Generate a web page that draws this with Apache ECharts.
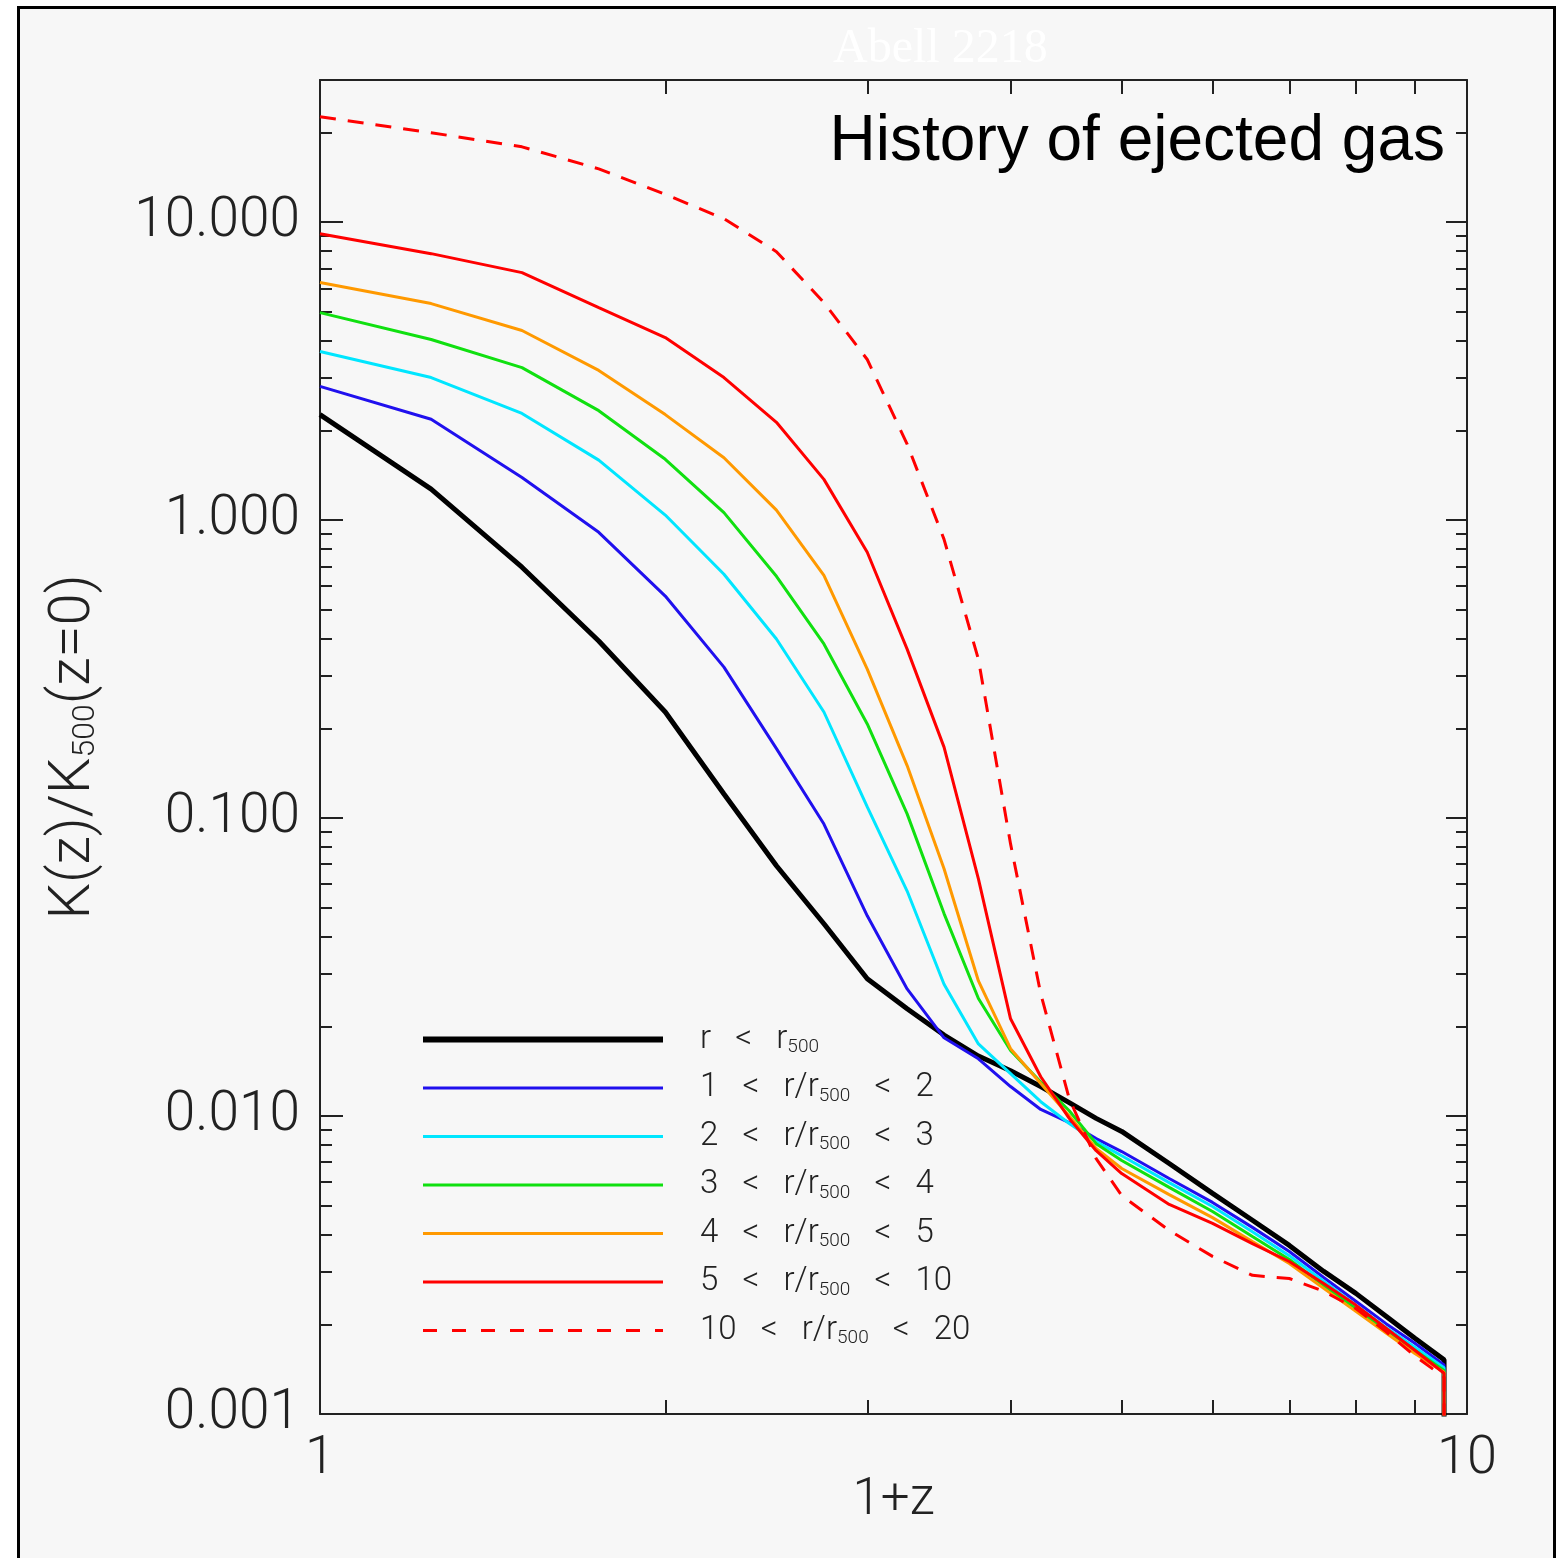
<!DOCTYPE html>
<html>
<head>
<meta charset="utf-8">
<script src="https://cdn.jsdelivr.net/npm/echarts@6/dist/echarts.min.js"></script>
<style>
  html, body { margin: 0; padding: 0; background: #fff; width: 1558px; height: 1558px; overflow: hidden; }
  #frame { position: absolute; left: 17px; top: 6px; width: 1533px; height: 1600px; border: 3px solid #000; background: #f7f7f7; }
  #chart { position: absolute; left: 0; top: 0; width: 1558px; height: 1558px; }
</style>
</head>
<body>
<div id="frame"></div>
<div id="chart"></div>
<script>
// 1+z sample points (last one repeated for the drop at the end)
const onePlusZ = [1, 1.25, 1.5, 1.75, 2, 2.25, 2.5, 2.75, 3, 3.25, 3.5, 3.75, 4, 4.25, 4.5, 4.75, 5, 5.5, 6, 6.5, 7, 7.5, 8, 8.5, 9, 9.55, 9.55]

// K(z)/K500(z=0) for each radial shell
const kCore = [2.26, 1.27, 0.695, 0.393, 0.227, 0.1205, 0.0692, 0.0442, 0.0289, 0.0229, 0.0187, 0.0159, 0.0142, 0.01256, 0.01109, 0.00982, 0.00888, 0.00693, 0.0055, 0.00447, 0.00368, 0.00301, 0.00254, 0.00213, 0.0018, 0.00152, 0.0005]
const k1to2 = [2.81, 2.18, 1.39, 0.91, 0.556, 0.321, 0.171, 0.0955, 0.047, 0.0267, 0.0183, 0.01556, 0.01256, 0.01052, 0.00951, 0.0084, 0.0076, 0.00617, 0.00513, 0.00423, 0.00351, 0.00287, 0.00239, 0.00201, 0.00173, 0.00146, 0.0005]
const k2to3 = [3.68, 3.01, 2.28, 1.59, 1.04, 0.658, 0.399, 0.227, 0.109, 0.0569, 0.0277, 0.01746, 0.01387, 0.01117, 0.00944, 0.00821, 0.00736, 0.00598, 0.00497, 0.00409, 0.0034, 0.00279, 0.00232, 0.00195, 0.00168, 0.00143, 0.0005]
const k3to4 = [4.97, 4.04, 3.25, 2.33, 1.6, 1.06, 0.648, 0.384, 0.207, 0.1033, 0.0478, 0.0248, 0.0166, 0.013, 0.01042, 0.00808, 0.00709, 0.00576, 0.00478, 0.00394, 0.0033, 0.0027, 0.00226, 0.00191, 0.00164, 0.0014, 0.0005]
const k4to5 = [6.27, 5.33, 4.33, 3.18, 2.26, 1.62, 1.08, 0.653, 0.316, 0.15, 0.0676, 0.0284, 0.01683, 0.01285, 0.01, 0.00778, 0.00667, 0.00545, 0.00456, 0.00379, 0.0032, 0.00264, 0.00221, 0.00187, 0.0016, 0.00138, 0.0005]
const k5to10 = [9.15, 7.84, 6.77, 5.17, 4.1, 3.01, 2.13, 1.37, 0.78, 0.369, 0.173, 0.0625, 0.0212, 0.01355, 0.00982, 0.00765, 0.00641, 0.00505, 0.00436, 0.00373, 0.00325, 0.00274, 0.00232, 0.00194, 0.00164, 0.00137, 0.0005]
const k10to20 = [22.6, 19.96, 17.9, 15.1, 12.4, 10.27, 7.96, 5.37, 3.46, 1.8, 0.862, 0.341, 0.0819, 0.0257, 0.01144, 0.00719, 0.00541, 0.00413, 0.00338, 0.00292, 0.00285, 0.00258, 0.00226, 0.00189, 0.00157, 0.00133, 0.0005]

const shellNames = ['r   <   r500', '1   <   r/r500   <   2', '2   <   r/r500   <   3', '3   <   r/r500   <   4', '4   <   r/r500   <   5', '5   <   r/r500   <   10', '10   <   r/r500   <   20']
const shellValues = [kCore, k1to2, k2to3, k3to4, k4to5, k5to10, k10to20]
const shellColors = ['#000000', '#2010ee', '#00e6ff', '#10e010', '#ff9900', '#ff0000', '#ff0000']

// tick values
const xMinorTicks = [2, 3, 4, 5, 6, 7, 8, 9]
const yMajorTicks = [0.001, 0.01, 0.1, 1, 10]
const yMinorTicks = [0.002, 0.003, 0.004, 0.005, 0.006, 0.007, 0.008, 0.009, 0.02, 0.03, 0.04, 0.05, 0.06, 0.07, 0.08, 0.09, 0.2, 0.3, 0.4, 0.5, 0.6, 0.7, 0.8, 0.9, 2, 3, 4, 5, 6, 7, 8, 9, 20]

const axisColor = '#222'
const labelFont = { fontFamily: 'Roboto', fontWeight: 300, color: '#222' }

const chart = echarts.init(document.getElementById('chart'), null, { renderer: 'canvas' })

function pairs(vals) {
  return onePlusZ.map((x, i) => [x, vals[i]])
}

function lineStyleFor(i) {
  return {
    color: shellColors[i],
    width: i === 0 ? 5 : 3,
    type: i === 6 ? [16, 12] : 'solid'
  }
}

const series = shellNames.map((name, i) => ({
  name: name,
  type: 'line',
  xAxisIndex: 0,
  yAxisIndex: 0,
  data: pairs(shellValues[i]),
  symbol: 'none',
  smooth: false,
  clip: true,
  silent: true,
  lineStyle: lineStyleFor(i),
  itemStyle: { color: shellColors[i] }
}))

const legendData = shellNames.map((name, i) => {
  const ls = lineStyleFor(i)
  if (i === 0) ls.width = 6
  if (i === 6) ls.type = [14, 15]
  return { name: name, lineStyle: ls }
})

const tickLine = { color: axisColor, width: 2 }

const option = {
  animation: false,
  backgroundColor: 'transparent',
  title: [
    {
      text: 'Abell 2218',
      left: 828,
      top: 20,
      textStyle: { fontFamily: 'Liberation Serif', fontSize: 48, fontWeight: 'normal', color: '#ffffff' }
    },
    {
      text: 'History of ejected gas',
      right: 108,
      top: 105,
      textStyle: { fontFamily: 'Liberation Sans', fontSize: 64, fontWeight: 'normal', color: '#000' }
    }
  ],
  grid: { left: 320, right: 91, top: 80, bottom: 144, containLabel: false },
  legend: {
    orient: 'vertical',
    left: 420,
    top: 1023,
    padding: 0,
    itemWidth: 240,
    itemHeight: 20,
    itemGap: 14.5,
    selectedMode: false,
    itemStyle: { opacity: 0 },
    data: legendData,
    formatter: function (name) {
      return '{n|' + name.replace(/r500/g, 'r}{s|500}{n|') + '}'
    },
    textStyle: {
      padding: [0, 0, 0, 32],
      rich: {
        n: { fontFamily: 'Roboto', fontWeight: 300, fontSize: 33, color: '#222' },
        s: { fontFamily: 'Roboto', fontWeight: 300, fontSize: 19, color: '#222', padding: [16, 0, 0, 0] }
      }
    }
  },
  xAxis: [
    {
      type: 'log',
      logBase: 10,
      min: 1,
      max: 10,
      position: 'bottom',
      name: '1+z',
      nameLocation: 'middle',
      nameGap: 62,
      nameMoveOverlap: false,
      nameTextStyle: Object.assign({ fontSize: 51 }, labelFont),
      axisLine: { show: true, lineStyle: tickLine },
      axisTick: { show: true, inside: true, length: 14, customValues: xMinorTicks, lineStyle: tickLine },
      axisLabel: Object.assign({ margin: 18, fontSize: 54, formatter: (v) => String(v) }, labelFont),
      splitLine: { show: false }
    },
    {
      type: 'log',
      logBase: 10,
      min: 1,
      max: 10,
      position: 'top',
      axisLine: { show: true, lineStyle: tickLine },
      axisTick: { show: true, inside: true, length: 14, customValues: xMinorTicks, lineStyle: tickLine },
      axisLabel: { show: false },
      splitLine: { show: false }
    }
  ],
  yAxis: [
    {
      type: 'log',
      logBase: 10,
      min: 0.001,
      max: 30,
      position: 'left',
      name: '{n|K(z)/K}{s|500}{n|(z=0)}',
      nameLocation: 'middle',
      nameGap: 217,
      nameTextStyle: {
        rich: {
          n: { fontFamily: 'Roboto', fontWeight: 300, fontSize: 58, color: '#222' },
          s: { fontFamily: 'Roboto', fontWeight: 300, fontSize: 32, color: '#222', padding: [24, 0, 0, 0] }
        }
      },
      axisLine: { show: true, lineStyle: tickLine },
      axisTick: { show: true, inside: true, length: 23, customValues: yMajorTicks, lineStyle: tickLine },
      axisLabel: Object.assign({
        margin: 20,
        fontSize: 55,
        customValues: yMajorTicks,
        formatter: (v) => v.toFixed(3)
      }, labelFont),
      splitLine: { show: false }
    },
    {
      type: 'log',
      logBase: 10,
      min: 0.001,
      max: 30,
      position: 'left',
      axisLine: { show: false },
      axisTick: { show: true, inside: true, length: 12, customValues: yMinorTicks, lineStyle: tickLine },
      axisLabel: { show: false },
      splitLine: { show: false }
    },
    {
      type: 'log',
      logBase: 10,
      min: 0.001,
      max: 30,
      position: 'right',
      axisLine: { show: true, lineStyle: tickLine },
      axisTick: { show: true, inside: true, length: 21, customValues: yMajorTicks, lineStyle: tickLine },
      axisLabel: { show: false },
      splitLine: { show: false }
    },
    {
      type: 'log',
      logBase: 10,
      min: 0.001,
      max: 30,
      position: 'right',
      axisLine: { show: false },
      axisTick: { show: true, inside: true, length: 11, customValues: yMinorTicks, lineStyle: tickLine },
      axisLabel: { show: false },
      splitLine: { show: false }
    }
  ],
  series: series
}

chart.setOption(option)
</script>
</body>
</html>
